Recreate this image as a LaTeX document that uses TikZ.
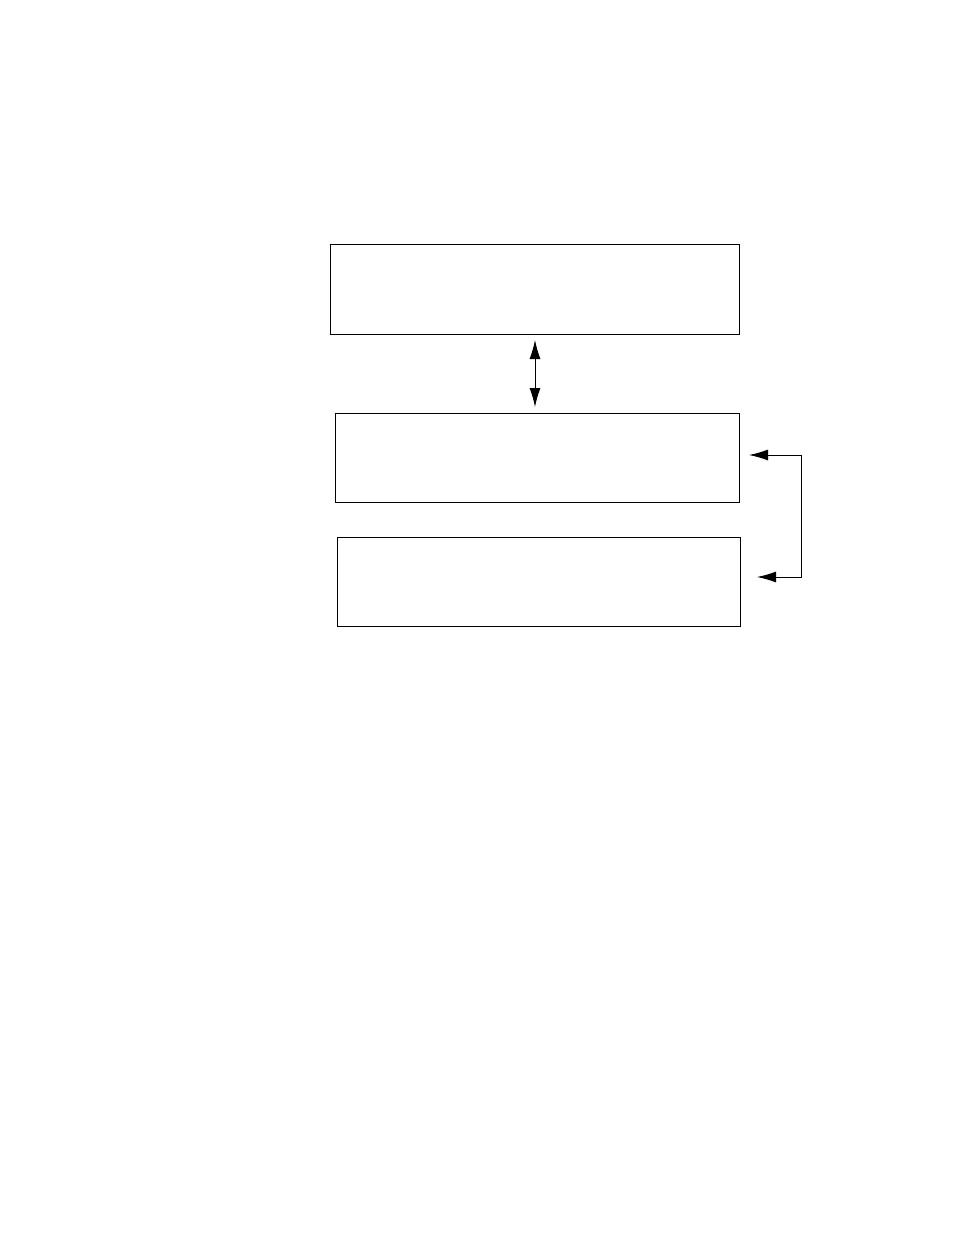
\documentclass[tikz,border=0pt]{standalone}
\usetikzlibrary{arrows.meta}
\begin{document}
\begin{tikzpicture}[x=1pt,y=-1pt,
  box/.style={draw,line width=1pt,inner sep=0pt,anchor=center},
  conn/.style={line width=1pt,{Latex[length=19pt,width=11pt]}-{Latex[length=19pt,width=11pt]}}]
\useasboundingbox (0,0) rectangle (954,1235);
\node[box,minimum width=409pt,minimum height=90pt] (b1) at (534.5,289) {};
\node[box,minimum width=404pt,minimum height=89pt] (b2) at (537,457.5) {};
\node[box,minimum width=403pt,minimum height=89pt] (b3) at (538.5,581.5) {};
\coordinate (a1) at (535,340);
\coordinate (a2) at (535,407);
\draw[conn] (a1) -- (a2);
\coordinate (t1) at (749,455);
\coordinate (t2) at (757,577);
\coordinate (k1) at (801,455);
\coordinate (k2) at (801,577);
\draw[conn] (t1) -- (k1) -- (k2) -- (t2);
\end{tikzpicture}
\end{document}
